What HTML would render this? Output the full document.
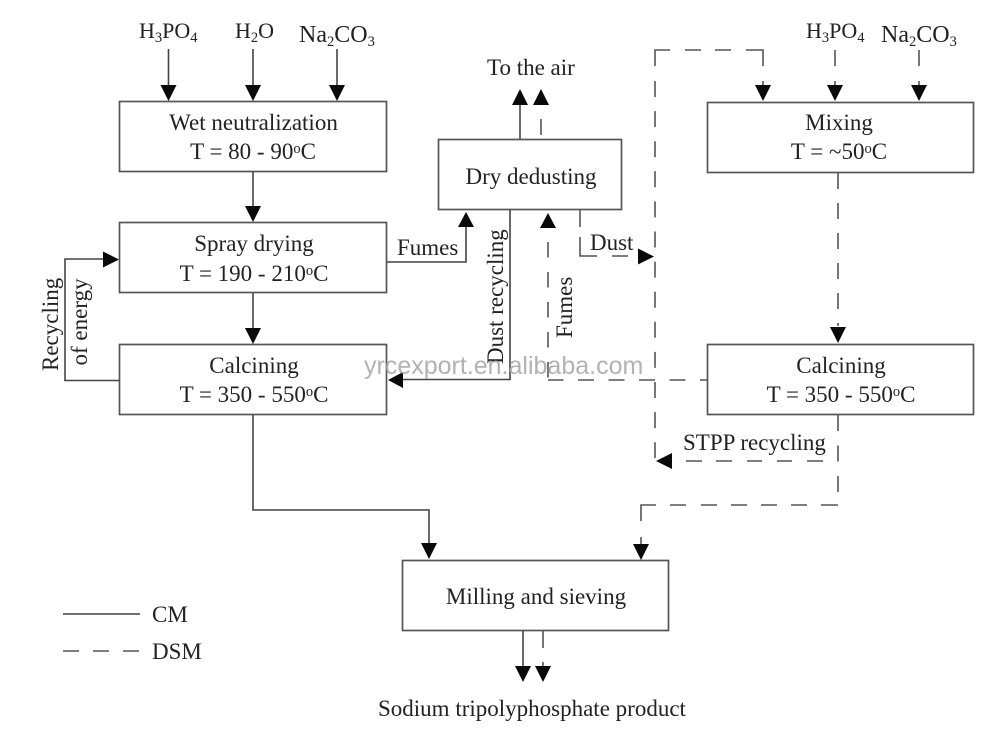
<!DOCTYPE html>
<html><head><meta charset="utf-8"><style>
html,body{margin:0;padding:0;background:#fff}
svg{display:block}
text{font-family:"Liberation Serif",serif;font-size:23px;fill:#222}
.b{fill:none;stroke:#555;stroke-width:1.7}
.l{fill:none;stroke:#444;stroke-width:1.6}
.e{fill:none;stroke:#555;stroke-width:1.6}
.a{fill:#0a0a0a}
.s{font-size:14.5px}
.f22{font-size:22px}
.f24{font-size:24px}
</style></head><body>
<svg width="1008" height="734" viewBox="0 0 1008 734" xmlns="http://www.w3.org/2000/svg">
<rect class="b" x="119.500" y="101.500" width="267" height="70"/>
<rect class="b" x="119.500" y="222.500" width="267" height="70"/>
<rect class="b" x="119.500" y="344.500" width="267" height="70"/>
<rect class="b" x="438.500" y="139.500" width="183" height="70"/>
<rect class="b" x="707.500" y="102.500" width="266" height="70"/>
<rect class="b" x="707.500" y="344.500" width="266" height="70"/>
<rect class="b" x="402.500" y="560.500" width="266" height="70"/>

<!-- solid lines -->
<path class="l" d="M168.500 49V87M253 49V87M337 49V87M253 172V208M253 293V330"/>
<path class="l" d="M387 262H466V226"/>
<path class="l" d="M520 139V104"/>
<path class="l" d="M510 210V379.500H402"/>
<path class="l" d="M119 380.500H65V259H105"/>
<path class="l" d="M253 415V510H429V545"/>
<path class="l" d="M523 631V668"/>
<path class="l" d="M63 614H140"/>

<!-- dashed lines (explicit segments) -->
<path class="e" d="M541 119V135"/>
<path class="e" d="M580 210V227M580 237V256H597M612 256H628"/>
<path class="e" d="M548 242V380" style="stroke-dasharray:15.5 14.5"/>
<path class="e" d="M708 380H548" style="stroke-dasharray:16 14.500;stroke-dashoffset:8"/>
<path class="e" d="M655 66V50H670M685 50H701M715 50H731M746 50H763V66M763 81V88"/>
<path class="e" d="M655 81V458" style="stroke-dasharray:16 14.100"/>
<path class="e" d="M835 50V66M835 81V88M919 50V66M919 81V88"/>
<path class="e" d="M838 173V326" style="stroke-dasharray:16 14"/>
<path class="e" d="M838 415V492" style="stroke-dasharray:16 14.500"/>
<path class="e" d="M686 461H702M716 461H732M747 461H762M777 461H792M807 461H823"/>
<path class="e" d="M641 521V505H656M670 505H686M701 505H717M731 505H747M761 505H777M791 505H807M821 505H838M641 537V546"/>
<path class="e" d="M543 631V648M543 662V668"/>
<path class="e" d="M63 651H79M93 651H109M123 651H139"/>

<!-- arrowheads -->
<path class="a" d="M160.500 85H176.500L168.500 101ZM245 85H261L253 101ZM329 85H345L337 101Z"/>
<path class="a" d="M245 206H261L253 222ZM245 328H261L253 344Z"/>
<path class="a" d="M458 227H474L466 212Z"/>
<path class="a" d="M512 105H528L520 89ZM533 105H549L541 89Z"/>
<path class="a" d="M540 228H556L548 213Z"/>
<path class="a" d="M638 248.500V264.500L654 256.500Z"/>
<path class="a" d="M103 251.500V267.500L119 259.500Z"/>
<path class="a" d="M403 372V388L388 380Z"/>
<path class="a" d="M755 85H771L763 101ZM827 85H843L835 101ZM911 85H927L919 101Z"/>
<path class="a" d="M830 327H846L838 343Z"/>
<path class="a" d="M672 453V469L656 461Z"/>
<path class="a" d="M421 543H437L429 559ZM633 544H649L641 560Z"/>
<path class="a" d="M515 666H531L523 682ZM535 666H551L543 682Z"/>

<!-- labels -->
<text class="f22" x="139" y="38">H<tspan class="s" dy="4">3</tspan><tspan dy="-4">PO</tspan><tspan class="s" dy="4">4</tspan></text>
<text class="f22" x="235" y="38">H<tspan class="s" dy="4">2</tspan><tspan dy="-4">O</tspan></text>
<text class="f24" x="299" y="42">Na<tspan class="s" dy="4">2</tspan><tspan dy="-4">CO</tspan><tspan class="s" dy="4">3</tspan></text>
<text class="f22" x="806" y="38">H<tspan class="s" dy="4">3</tspan><tspan dy="-4">PO</tspan><tspan class="s" dy="4">4</tspan></text>
<text class="f24" x="881" y="42">Na<tspan class="s" dy="4">2</tspan><tspan dy="-4">CO</tspan><tspan class="s" dy="4">3</tspan></text>
<text x="487" y="75">To the air</text>

<text x="253.500" y="130" text-anchor="middle">Wet neutralization</text>
<text x="253" y="159" text-anchor="middle">T = 80 - 90<tspan class="s" dy="-6">o</tspan><tspan dy="6">C</tspan></text>
<text x="254" y="251" text-anchor="middle">Spray drying</text>
<text x="254" y="281" text-anchor="middle">T = 190 - 210<tspan class="s" dy="-6">o</tspan><tspan dy="6">C</tspan></text>
<text x="254" y="373" text-anchor="middle">Calcining</text>
<text x="254" y="402" text-anchor="middle">T = 350 - 550<tspan class="s" dy="-6">o</tspan><tspan dy="6">C</tspan></text>
<text x="531" y="184" text-anchor="middle">Dry dedusting</text>
<text x="839" y="130" text-anchor="middle">Mixing</text>
<text x="839" y="159" text-anchor="middle">T = ~50<tspan class="s" dy="-6">o</tspan><tspan dy="6">C</tspan></text>
<text x="841" y="373" text-anchor="middle">Calcining</text>
<text x="841" y="402" text-anchor="middle">T = 350 - 550<tspan class="s" dy="-6">o</tspan><tspan dy="6">C</tspan></text>
<text x="536" y="604" text-anchor="middle">Milling and sieving</text>

<text x="397" y="255">Fumes</text>
<text x="590" y="250">Dust</text>
<text x="683" y="450">STPP recycling</text>
<text x="152" y="622">CM</text>
<text x="152" y="659">DSM</text>
<text x="378" y="716">Sodium tripolyphosphate product</text>

<text transform="translate(503,364) rotate(-90)">Dust recycling</text>
<text transform="translate(572,338) rotate(-90)">Fumes</text>
<text transform="translate(58,371) rotate(-90)">Recycling</text>
<text transform="translate(87,365.500) rotate(-90)">of energy</text>

<text x="364" y="374" style="font-family:'Liberation Sans',sans-serif;font-size:25px;fill:#a4a4a4;fill-opacity:.85">yrcexport.en.alibaba.com</text>
</svg>
</body></html>
